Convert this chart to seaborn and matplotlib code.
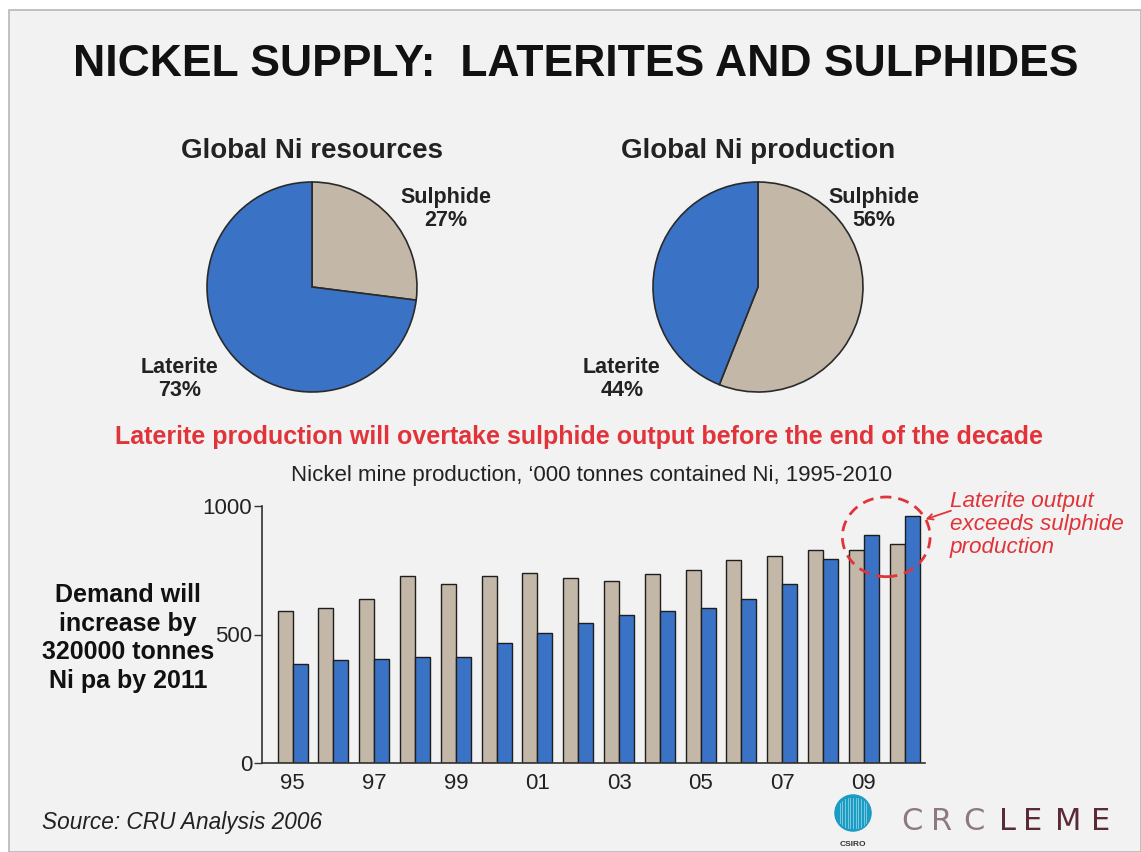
import numpy as np
import pandas as pd
import matplotlib
matplotlib.use("Agg")
import matplotlib.pyplot as plt
from matplotlib.patches import Rectangle, Ellipse, Circle
import seaborn as sns

# ---- data ----
pie_labels = ["Sulphide", "Laterite"]
resources_share = [27, 73]
production_share = [56, 44]

years = list(range(1995, 2011))
sulphide_output = [591, 604, 640, 727, 695, 727, 739, 719, 708, 734, 752, 789, 807, 829, 829, 851]
laterite_output = [387, 400, 406, 413, 413, 468, 505, 543, 577, 591, 603, 640, 696, 793, 886, 960]
y_ticks = [0, 500, 1000]

TAN = "#c3b7a7"
BLUE = "#3a73c6"
RED = "#e0343a"
BG = "#f2f2f2"

W, H = 1141, 852
fig = plt.figure(figsize=(W / 100, H / 100), dpi=100)
fig.patch.set_facecolor("white")

plt.rcParams["font.family"] = ["Liberation Sans", "DejaVu Sans"]


def fx(px):
    return px / W


def fy(py):
    return 1 - py / H


# slide panel
fig.add_artist(Rectangle((fx(9), 0), 1 - fx(9), fy(10), transform=fig.transFigure,
                         facecolor=BG, edgecolor="#b8b8b8", linewidth=1.2, zorder=0))

fig.text(fx(576), fy(65), "NICKEL SUPPLY:  LATERITES AND SULPHIDES", ha="center", va="center",
         fontsize=32, fontweight="bold", color="#111111")

# ---- pies ----
def draw_pie(cx, cy, r, shares, title, lab_pos):
    ax = fig.add_axes([fx(cx - r), fy(cy + r), (2 * r) / W, (2 * r) / H])
    ax.pie(shares, colors=[TAN, BLUE], startangle=90, counterclock=False,
           wedgeprops=dict(edgecolor="#2a2a2a", linewidth=1.2))
    ax.set_xlim(-1, 1)
    ax.set_ylim(-1, 1)
    ax.set_aspect("auto")
    for p in ax.patches:
        p.set_clip_on(False)
    ax.axis("off")
    fig.text(fx(cx), fy(151), title, ha="center", va="center", fontsize=20,
             fontweight="bold", color="#222222")
    for name, share, (lx, ly) in zip(pie_labels, shares, lab_pos):
        fig.text(fx(lx), fy(ly), f"{name}\n{share}%", ha="center", va="center",
                 fontsize=15.5, fontweight="bold", color="#222222", linespacing=1.1)


draw_pie(312, 287, 105, resources_share, "Global Ni resources", [(446, 209), (180, 379)])
draw_pie(758, 287, 105, production_share, "Global Ni production", [(874, 209), (622, 379)])

fig.text(fx(579), fy(437),
         "Laterite production will overtake sulphide output before the end of the decade",
         ha="center", va="center", fontsize=18, fontweight="bold", color=RED)
fig.text(fx(592), fy(476), "Nickel mine production, \u2018000 tonnes contained Ni, 1995-2010",
         ha="center", va="center", fontsize=16, color="#222222")

# ---- bars ----
df = pd.DataFrame({
    "year": years * 2,
    "type": ["Sulphide"] * len(years) + ["Laterite"] * len(years),
    "kt": sulphide_output + laterite_output,
})

x0, x1, ybot, ytop = 262, 925, 763, 506
ax = fig.add_axes([fx(x0), fy(ybot), (x1 - x0) / W, (ybot - ytop) / H])
ax.set_facecolor("none")
sns.barplot(data=df, x="year", y="kt", hue="type", hue_order=pie_labels,
            palette=[TAN, BLUE], width=0.74, gap=0, edgecolor="#1e1e1e",
            linewidth=1.0, saturation=1, legend=False, ax=ax)
ax.set_xlim(-0.75, 15.5)
ax.set_ylim(0, 1000)
ax.set_yticks(y_ticks)
ax.set_yticklabels([str(v) for v in y_ticks])
tick_pos = list(range(0, 16, 2))
ax.set_xticks(tick_pos)
ax.set_xticklabels([f"{years[i] % 100:02d}" for i in tick_pos])
ax.set_xlabel("")
ax.set_ylabel("")
for s in ["top", "right"]:
    ax.spines[s].set_visible(False)
for s in ["left", "bottom"]:
    ax.spines[s].set_color("#333333")
    ax.spines[s].set_linewidth(1.2)
ax.tick_params(axis="x", length=0, pad=7, labelsize=16, colors="#222222")
ax.tick_params(axis="y", length=6, width=1.0, color="#333333", pad=1, labelsize=16,
               labelcolor="#222222")

# highlight around 2009-2010
ax.add_patch(Ellipse((14.55, 880), 2.15, 310, transform=ax.transData, fill=False,
                     edgecolor=RED, linestyle=(0, (4, 2.5)), linewidth=2.0, clip_on=False))
ax.annotate("", xy=(15.45, 945), xytext=(16.2, 985),
            arrowprops=dict(arrowstyle="->", color=RED, lw=1.3), annotation_clip=False)
fig.text(fx(950), fy(491), "Laterite output\nexceeds sulphide\nproduction", ha="left", va="top",
         fontsize=16.2, style="italic", color=RED, linespacing=1.12)

fig.text(fx(128), fy(638), "Demand will\nincrease by\n320000 tonnes\nNi pa by 2011",
         ha="center", va="center", fontsize=18, fontweight="bold", color="#111111",
         linespacing=1.25)

fig.text(fx(42), fy(823), "Source: CRU Analysis 2006", ha="left", va="center",
         fontsize=16.3, style="italic", color="#222222")

# ---- logos ----
lax = fig.add_axes([fx(834), fy(832), 38 / W, 38 / H])
lax.set_xlim(-1, 1)
lax.set_ylim(-1, 1)
lax.axis("off")
lax.add_patch(Circle((0, 0), 0.95, color="#1a9cc4"))
for xv in np.linspace(-0.7, 0.7, 11):
    half = np.sqrt(max(0.95 ** 2 - xv ** 2, 0)) * 0.85
    lax.plot([xv, xv], [-half, half], color="white", lw=0.5, alpha=0.6)
fig.text(fx(853), fy(844), "CSIRO", ha="center", va="center", fontsize=6,
         fontweight="bold", color="#333333")

letters = "CRCLEME"
xs = [912, 942, 974, 1007, 1033, 1068, 1101]
for i, (ch, xv) in enumerate(zip(letters, xs)):
    fig.text(fx(xv), fy(821), ch, ha="center", va="center", fontsize=22,
             family="DejaVu Sans", fontweight="normal",
             color="#8c7a80" if i < 3 else "#5a2a36")

fig.savefig("out.png", dpi=100, facecolor=fig.get_facecolor())
